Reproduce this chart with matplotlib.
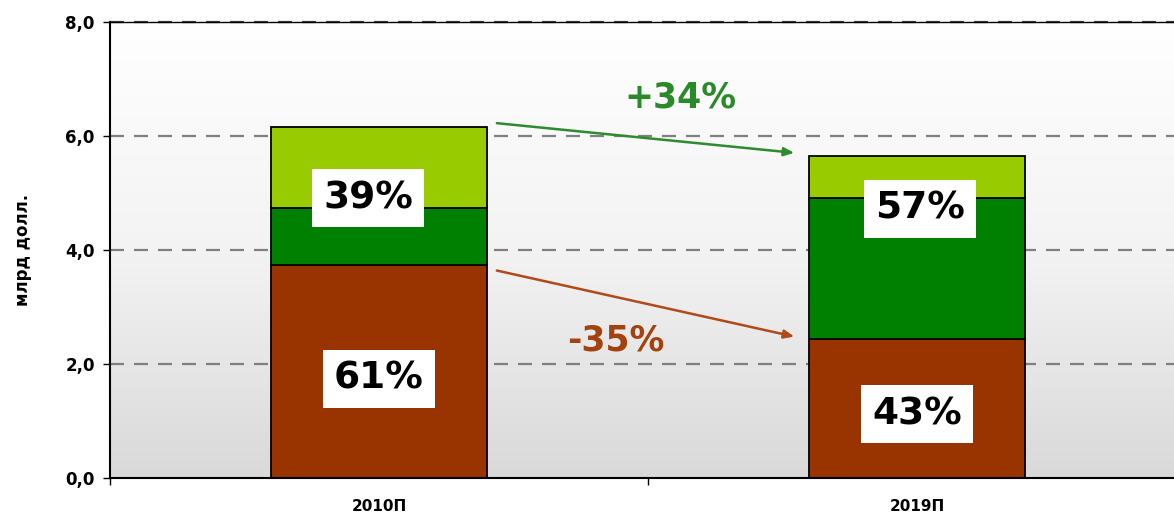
import matplotlib
matplotlib.use("Agg")
import matplotlib.pyplot as plt
import numpy as np

categories = ["2010П", "2019П"]
brown_vals = [3.73, 2.43]
dkgreen_vals = [1.0, 2.49]
ltgreen_vals = [1.43, 0.73]
bottom_pct = ["61%", "43%"]
top_pct = ["39%", "57%"]
change_green = "+34%"
change_brown = "-35%"
yticks = [0, 2, 4, 6, 8]
ytick_labels = ["0,0", "2,0", "4,0", "6,0", "8,0"]
ylabel = "млрд долл."

plt.rcParams['font.family'] = ['DejaVu Sans']

fig = plt.figure(figsize=(11.74, 5.15), dpi=100)
ax = fig.add_axes([110/1174, 1-478/515, 1076/1174, 456/515])

x = np.arange(len(categories))
w = 0.4
ax.set_xlim(-0.5, 1.5)

# gradient background: white at top, grey at bottom
grad = np.linspace(0, 1, 256).reshape(-1, 1)
cmap = matplotlib.colors.LinearSegmentedColormap.from_list("bg", ["#ffffff", "#f3f3f3", "#d9d9d9"])
ax.imshow(grad, aspect='auto', cmap=cmap, extent=[-0.5, 1.5, 0, 8], origin='upper', zorder=0)
ax.set_ylim(0, 8)
ax.set_xlim(-0.5, 1.5)

for yv in [2, 4, 6]:
    ax.axhline(yv, color="#808080", lw=1.6, ls=(0, (6.3, 4.5)), zorder=1)
ax.axhline(8, color="#404040", lw=1.6, ls=(0, (6.3, 4.5)), zorder=1, clip_on=False)

b1 = np.array(brown_vals)
b2 = b1 + np.array(dkgreen_vals)
ax.bar(x, brown_vals, w, color="#993300", edgecolor="black", lw=1.3, zorder=2)
ax.bar(x, dkgreen_vals, w, bottom=b1, color="#008000", edgecolor="black", lw=1.3, zorder=2)
ax.bar(x, ltgreen_vals, w, bottom=b2, color="#99cc00", edgecolor="black", lw=1.3, zorder=2)

lab_pos_bottom = [(0.0, 1.74), (0.0, 1.12)]
lab_pos_top = [(-0.02, 4.91), (0.005, 4.72)]
for i in range(2):
    for (dx, yy), txt in ((lab_pos_bottom[i], bottom_pct[i]), (lab_pos_top[i], top_pct[i])):
        ax.text(x[i] + dx, yy, txt, ha="center", va="center",
                fontsize=27, fontweight="bold", color="black", zorder=4,
                bbox=dict(facecolor="white", edgecolor="none", boxstyle="square,pad=0.3"))

# arrows
ax.annotate("", xy=(0.777, 5.70), xytext=(0.214, 6.23),
            arrowprops=dict(arrowstyle="-|>,head_length=0.6,head_width=0.25", color="#2e8b2e", lw=1.8), zorder=3)
ax.annotate("", xy=(0.777, 2.47), xytext=(0.214, 3.65),
            arrowprops=dict(arrowstyle="-|>,head_length=0.6,head_width=0.25", color="#b04a1a", lw=1.8), zorder=3)
ax.text(0.56, 6.68, change_green, ha="center", va="center", fontsize=25, fontweight="bold", color="#2a8a2a", zorder=4)
ax.text(0.44, 2.42, change_brown, ha="center", va="center", fontsize=25, fontweight="bold", color="#a3410f", zorder=4)

ax.set_yticks(yticks)
ax.set_yticklabels(ytick_labels, fontsize=12, fontweight="bold")
ax.set_xticks(x)
ax.set_xticklabels(categories, fontsize=11, fontweight="bold")
ax.tick_params(axis="x", length=0, pad=15)
ax.set_xticks([-0.5, 0.5, 1.5], minor=True)
ax.tick_params(axis="x", which="minor", length=5, width=1, direction="out")
ax.tick_params(axis="y", length=5, width=1, direction="out", pad=6)
ax.set_ylabel(ylabel, fontsize=12, fontweight="bold", labelpad=24)

for s in ["left", "bottom"]:
    ax.spines[s].set_linewidth(1.5)
    ax.spines[s].set_color("black")
ax.spines["top"].set_linewidth(1.0)
ax.spines["right"].set_visible(False)

fig.savefig("out.png", dpi=100)
